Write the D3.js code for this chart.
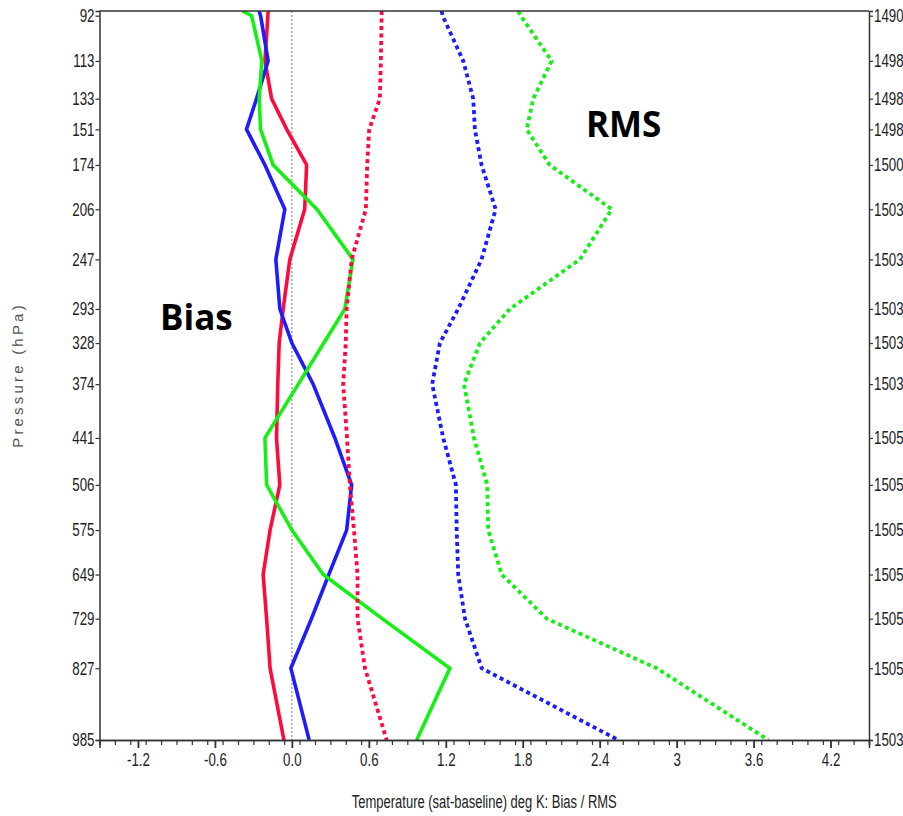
<!DOCTYPE html>
<html>
<head>
<meta charset="utf-8">
<script src="https://cdn.jsdelivr.net/npm/d3@7"></script>
<style>
  html, body { margin: 0; padding: 0; background: #fff; }
  svg { display: block; }
  .tick text { font-family: "Liberation Sans", Arial, sans-serif; font-size: 18px; fill: #222; }
</style>
</head>
<body>
<svg id="chart" width="903" height="816"></svg>
<script>
// ---- data ----
const levels = [90, 92, 113, 133, 151, 174, 206, 247, 293, 328, 374, 441, 506, 575, 649, 729, 827, 985];
const tickLevels = [92, 113, 133, 151, 174, 206, 247, 293, 328, 374, 441, 506, 575, 649, 729, 827, 985];
const countLabels = ["1490","1498","1498","1498","1500","1503","1503","1503","1503","1503","1505","1505","1505","1505","1505","1505","1503"];
const xTickValues = [-1.2, -0.6, 0, 0.6, 1.2, 1.8, 2.4, 3, 3.6, 4.2];
const xTickLabels = ["-1.2", "-0.6", "0.0", "0.6", "1.2", "1.8", "2.4", "3", "3.6", "4.2"];

const biasRed   = [-0.185, -0.187, -0.21, -0.158, -0.04, 0.115, 0.10, -0.016, -0.068, -0.099, -0.11, -0.12, -0.094, -0.17, -0.224, -0.197, -0.17, -0.062];
const biasBlue  = [-0.256, -0.244, -0.185, -0.276, -0.354, -0.21, -0.055, -0.125, -0.094, 0.0, 0.166, 0.335, 0.466, 0.427, 0.288, 0.153, -0.008, 0.135];
const biasGreen = [-0.385, -0.314, -0.234, -0.255, -0.244, -0.146, 0.195, 0.476, 0.413, 0.249, 0.05, -0.21, -0.197, 0.0, 0.244, 0.704, 1.232, 0.973];
const rmsRed    = [0.70, 0.70, 0.694, 0.686, 0.603, 0.587, 0.577, 0.466, 0.427, 0.42, 0.40, 0.43, 0.452, 0.484, 0.512, 0.512, 0.57, 0.739];
const rmsBlue   = [1.168, 1.175, 1.336, 1.414, 1.427, 1.479, 1.589, 1.479, 1.297, 1.154, 1.094, 1.18, 1.279, 1.285, 1.297, 1.35, 1.48, 2.545];
const rmsGreen  = [1.765, 1.784, 2.026, 1.882, 1.831, 2.01, 2.494, 2.246, 1.70, 1.466, 1.342, 1.42, 1.523, 1.531, 1.636, 1.987, 2.845, 3.715];

const series = [
  { values: biasRed,   color: "#ff0a3c", dotted: false },
  { values: biasBlue,  color: "#1c1cff", dotted: false },
  { values: biasGreen, color: "#14f014", dotted: false },
  { values: rmsRed,    color: "#ff0a3c", dotted: true },
  { values: rmsBlue,   color: "#1c1cff", dotted: true },
  { values: rmsGreen,  color: "#14f014", dotted: true }
];

// ---- layout ----
const svg = d3.select("#chart");
const pLeft = 99.5, pRight = 869, pTop = 11, pBottom = 740;
const narrow = 0.74;

const x = d3.scaleLinear().domain([-1.5, 4.5]).range([pLeft, pRight]);
const y = d3.scalePow().exponent(0.286).domain([90, 985]).range([pTop, pBottom]);

// clip
svg.append("defs").append("clipPath").attr("id", "clip")
  .append("rect").attr("x", pLeft).attr("y", pTop).attr("width", pRight - pLeft).attr("height", pBottom - pTop);

// zero line
svg.append("line")
  .attr("x1", x(0)).attr("x2", x(0)).attr("y1", pTop).attr("y2", pBottom)
  .attr("stroke", "#777").attr("stroke-width", 1).attr("stroke-dasharray", "2,2");

// lines
const line = d3.line().x(d => x(d[0])).y(d => y(d[1]));
const g = svg.append("g").attr("clip-path", "url(#clip)");
series.forEach(s => {
  g.append("path")
    .datum(s.values.map((v, i) => [v, levels[i]]))
    .attr("d", line)
    .attr("fill", "none")
    .attr("stroke", s.color)
    .attr("stroke-width", s.dotted ? 3.8 : 3.6)
    .attr("stroke-linejoin", "miter")
    .attr("stroke-dasharray", s.dotted ? "4,3.5" : null);
});

// top border
svg.append("line").attr("x1", pLeft).attr("x2", pRight).attr("y1", pTop).attr("y2", pTop)
  .attr("stroke", "#333").attr("stroke-width", 1.5);

// axes
const styleAxis = sel => {
  sel.select(".domain").attr("stroke", "#333").attr("stroke-width", 1.5);
  sel.selectAll(".tick line").attr("stroke", "#333").attr("stroke-width", 1.2);
  sel.selectAll(".tick text")
    .attr("transform", `scale(${narrow},1)`)
    .attr("x", function () { const v = d3.select(this).attr("x"); return v == null ? null : (+v) / narrow; });
};

svg.append("g").attr("transform", `translate(${pLeft},0)`)
  .call(d3.axisLeft(y).tickValues(tickLevels).tickSize(4).tickPadding(1).tickFormat(d => d))
  .call(styleAxis);

svg.append("g").attr("transform", `translate(${pRight},0)`)
  .call(d3.axisRight(y).tickValues(tickLevels).tickSize(4).tickPadding(1).tickFormat((d, i) => countLabels[i]))
  .call(styleAxis);

// minor x ticks
svg.append("g").attr("transform", `translate(0,${pBottom})`)
  .call(d3.axisBottom(x).tickValues(d3.range(51).map(k => -1.5 + 0.12 * k)).tickSize(5).tickFormat(""))
  .call(styleAxis);

// major x ticks
svg.append("g").attr("transform", `translate(0,${pBottom})`)
  .call(d3.axisBottom(x).tickValues(xTickValues).tickSize(8).tickPadding(5).tickFormat((d, i) => xTickLabels[i]))
  .call(styleAxis)
  .call(sel => sel.selectAll(".tick line").attr("stroke-width", 1.8));

// axis titles
svg.append("text")
  .attr("x", (pLeft + pRight) / 2).attr("y", 808)
  .attr("text-anchor", "middle")
  .attr("textLength", 265).attr("lengthAdjust", "spacingAndGlyphs")
  .style("font-family", "\"Liberation Sans\", Arial, sans-serif")
  .style("font-size", "18px").attr("fill", "#222")
  .text("Temperature (sat-baseline) deg K: Bias / RMS");

svg.append("text")
  .attr("transform", "translate(23,375) rotate(-90)")
  .attr("text-anchor", "middle")
  .style("font-family", "\"Liberation Sans\", Arial, sans-serif")
  .style("font-size", "15px").style("letter-spacing", "3.2px").attr("fill", "#555")
  .text("Pressure (hPa)");

// annotations
svg.append("text").attr("x", 160).attr("y", 330)
  .style("font-family", "\"Open Sans\", \"Noto Sans\", sans-serif")
  .style("font-size", "35px").style("font-weight", "700").attr("fill", "#000")
  .text("Bias");
svg.append("text").attr("x", 586).attr("y", 137)
  .style("font-family", "\"Open Sans\", \"Noto Sans\", sans-serif")
  .style("font-size", "35px").style("font-weight", "700").attr("fill", "#000")
  .text("RMS");
</script>
</body>
</html>
